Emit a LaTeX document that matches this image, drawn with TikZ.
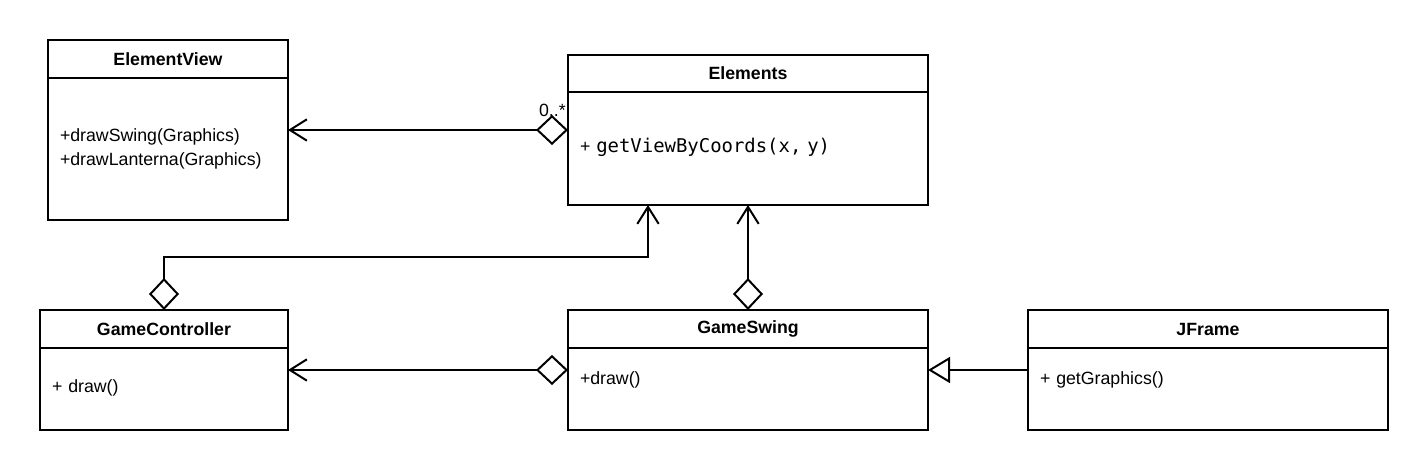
\documentclass[tikz,border=0pt]{standalone}
\usepackage{fontspec}
\setmainfont{Liberation Sans}
\newfontfamily\codefont{DejaVu Sans Mono}
\usetikzlibrary{positioning,arrows.meta}
\tikzstyle{agg} = [line width=1.5pt,arrows={Diamond[open,length=24pt,width=22.5pt]-Straight Barb[length=12.75pt,width=16pt]}]
\tikzstyle{inherit} = [line width=1.5pt,arrows={-Triangle[open,length=16.5pt,width=19.5pt]}]

\begin{document}
\begin{tikzpicture}[x=0.75pt,y=-0.75pt,font=\fontsize{13.3}{18}\selectfont]
	\tikzstyle{head} = [rectangle, draw=black, line width=1.5pt, outer sep=0pt, anchor=north west, minimum height=28.5pt, font=\fontsize{13.3}{18}\selectfont\bfseries];
	\tikzstyle{body} = [rectangle, draw=black, line width=1.5pt, outer sep=0pt, align=left, inner xsep=9pt];
	\useasboundingbox (0,0) rectangle (1428,470);
	% classes
	\node (viewhead) [head, minimum width=180pt] at (48,40) {ElementView};
	\node (viewbody) [body, text width=162pt, minimum height=106.5pt, below=0pt of viewhead] {+drawSwing(Graphics)\\+drawLanterna(Graphics)};
	\node (elemshead) [head, minimum width=270pt, minimum height=27.75pt] at (568,55) {Elements};
	\node (elemsbody) [body, text width=252pt, minimum height=84.75pt, text depth=5pt, below=0pt of elemshead] {+ {\codefont\fontsize{14.2}{18}\selectfont getViewByCoords(x, y)}};
	\node (gchead) [head, minimum width=186pt] at (40,310) {GameController};
	\node (gcbody) [body, text width=168pt, minimum height=61.5pt, text depth=5pt, below=0pt of gchead] {+ draw()};
	\node (gshead) [head, minimum width=270pt] at (568,310) {GameSwing};
	\node (gsbody) [body, text width=252pt, minimum height=61.5pt, text depth=17pt, below=0pt of gshead] {+draw()};
	\node (jfhead) [head, minimum width=270pt] at (1028,310) {JFrame};
	\node (jfbody) [body, text width=252pt, minimum height=61.5pt, text depth=17pt, below=0pt of jfhead] {+ getGraphics()};
	% relations
	\coordinate (viewagg) at ([yshift=13.875pt]elemsbody.west);
	\draw [agg] (viewagg) -- (viewagg -| viewbody.east)
		node [pos=0, anchor=south east, inner sep=0pt, xshift=-1pt, yshift=9pt] (mult) {0..*};
	\draw [agg] (gchead.north) -- ++(0,-53) -| ([xshift=-75pt]elemsbody.south);
	\draw [agg] (gshead.north) -- (elemsbody.south);
	\draw [agg] ([yshift=14.25pt]gsbody.west) -- ([yshift=14.25pt]gcbody.east);
	\draw [inherit] ([yshift=14.25pt]jfbody.west) -- ([yshift=14.25pt]gsbody.east);
\end{tikzpicture}
\end{document}
